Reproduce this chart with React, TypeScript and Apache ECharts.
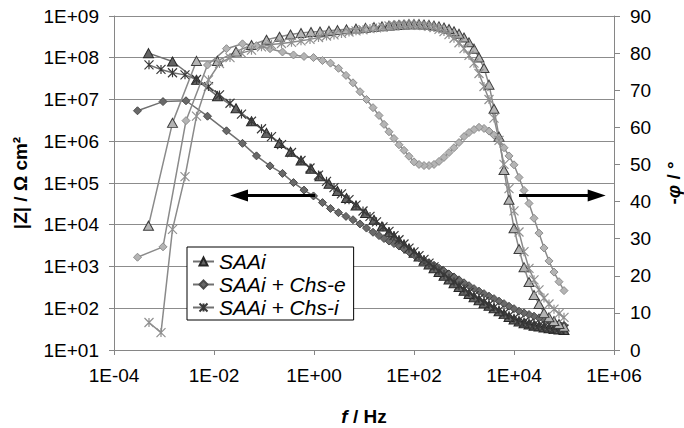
import React, { useEffect, useRef } from "react";
import * as echarts from "echarts";

const FONT = "'Liberation Sans', Arial, sans-serif";

// Frequencies (Hz), shared high-frequency part 1e5 .. 31.6 Hz
const freqHigh = [
  100000, 79430, 63100, 50120, 39810, 31620, 25120, 19950, 15850, 12590,
  10000, 7943, 6310, 5012, 3981, 3162, 2512, 1995, 1585, 1259,
  1000, 794.3, 631, 501.2, 398.1, 316.2, 251.2, 199.5, 158.5, 125.9,
  100, 79.43, 63.1, 50.12, 39.81, 31.62,
];
const freqLowSAAi = [
  22.91, 15.85, 10.72, 6.918, 4.467, 2.951, 1.995, 1.318, 0.871, 0.5495,
  0.3388, 0.2042, 0.1122, 0.05623, 0.02754, 0.01175, 0.004467, 0.001479, 0.0004898,
];
const freqLowChsE = [
  25.12, 19.95, 15.14, 11.22, 8.318, 6.026, 4.365, 3.09, 2.138, 1.479,
  0.9772, 0.631, 0.389, 0.2344, 0.1318, 0.07079, 0.03715, 0.01778, 0.007413, 0.002754,
  0.000955, 0.000295,
];
const freqLowChsI = [
  23.99, 17.78, 13.18, 9.55, 6.918, 5.012, 3.548, 2.512, 1.778, 1.23,
  0.8318, 0.5495, 0.3548, 0.2239, 0.1413, 0.08913, 0.05623, 0.03548, 0.02089, 0.01288,
  0.007762, 0.004467, 0.00263, 0.001479, 0.000871, 0.000501,
];

// |Z| (Ohm cm2)
const zSAAi = [
  30.2, 30.9, 31.6, 33.1, 34.7, 36.3, 38.0, 40.7, 43.7, 47.9,
  53.7, 61.7, 72.4, 85.1, 100, 115, 132, 155, 182, 219,
  263, 324, 398, 490, 603, 741, 912, 1122, 1380, 1738,
  2138, 2692, 3311, 4169, 5248, 6607,
  9120, 13180, 19050, 28840, 43650, 64570, 95500, 144500, 218800, 346700,
  562300, 912000, 1.585e6, 3.02e6, 6.17e6, 1.202e7, 2.95e7, 8.13e7, 1.288e8,
];
const zChsE = [
  38.9, 41.7, 44.7, 49.0, 53.7, 58.9, 64.6, 70.8, 77.6, 85.1,
  97.7, 112, 129, 148, 170, 195, 224, 257, 295, 347,
  407, 479, 562, 661, 776, 912, 1072, 1230, 1413, 1622,
  1905, 2239, 2630, 3090, 3548, 4074,
  4677, 5495, 6607, 8318, 10470, 13180, 15850, 19500, 24550, 33880,
  48980, 67610, 102300, 169800, 257000, 446700, 891300, 1.778e6, 3.98e6, 9.33e6,
  8.91e6, 5.37e6,
];
const zChsI = [
  31.6, 32.4, 33.1, 34.7, 36.3, 38.0, 40.7, 43.7, 46.8, 51.3,
  57.5, 66.1, 75.9, 89.1, 105, 123, 145, 170, 200, 240,
  288, 347, 427, 525, 646, 794, 977, 1202, 1479, 1820,
  2239, 2754, 3467, 4365, 5495, 6918,
  8913, 11750, 15850, 21380, 29510, 39810, 54950, 77620, 109600, 154900,
  229100, 346700, 537000, 831800, 1.288e6, 1.995e6, 3.02e6, 4.47e6, 8.13e6, 1.288e7,
  2.04e7, 3.02e7, 3.89e7, 4.37e7, 5.25e7, 6.76e7,
];

// -phase (degrees)
const pSAAi = [
  6.3, 7.0, 7.8, 8.8, 10.0, 12.4, 14.8, 18.3, 22.3, 27.2,
  32.8, 40.5, 48.5, 57.5, 65.0, 71.5, 76.0, 78.8, 81.2, 82.9,
  84.2, 85.2, 85.9, 86.5, 86.9, 87.2, 87.4, 87.6, 87.7, 87.8,
  87.8, 87.8, 87.7, 87.6, 87.5, 87.4,
  87.2, 87.0, 86.8, 86.6, 86.4, 86.2, 86.0, 85.8, 85.7, 85.4,
  85.0, 84.4, 83.6, 82.2, 80.4, 77.9, 77.9, 61.2, 33.5,
];
const pChsE = [
  16.0, 18.4, 21.0, 24.0, 27.5, 31.5, 35.5, 39.5, 43.0, 46.5,
  49.9, 52.3, 54.5, 56.5, 57.9, 59.0, 59.7, 60.0, 59.4, 58.6,
  57.5, 55.9, 54.5, 53.2, 51.9, 50.8, 50.0, 49.7, 49.7, 50.0,
  50.7, 52.2, 53.8, 55.3, 57.0, 58.8,
  60.8, 63.2, 65.3, 67.5, 69.6, 72.0, 74.0, 75.9, 77.3, 78.0,
  78.8, 79.1, 79.5, 80.3, 81.2, 82.0, 82.5, 81.2, 76.8, 61.8,
  27.8, 25.0,
];
const pChsI = [
  8.8, 9.8, 11.0, 12.4, 14.0, 16.2, 18.9, 22.0, 26.5, 31.8,
  37.5, 43.5, 50.0, 56.5, 62.5, 67.5, 71.0, 74.5, 77.3, 79.4,
  81.2, 82.8, 84.0, 85.0, 85.8, 86.4, 86.9, 87.2, 87.4, 87.5,
  87.6, 87.6, 87.6, 87.5, 87.4, 87.3,
  87.0, 86.8, 86.6, 86.3, 86.0, 85.7, 85.3, 84.9, 84.6, 84.2,
  83.7, 83.3, 82.9, 82.6, 82.3, 81.7, 80.8, 80.0, 78.8, 77.2,
  72.8, 63.0, 46.7, 32.5, 4.7, 7.4,
];

const seriesNames = ["SAAi", "SAAi + Chs-e", "SAAi + Chs-i"];

// Annotation arrows: [from Hz, to Hz] at |Z| level
const arrowLeftHz = [1.05, 0.0316];
const arrowRightHz = [12600, 450000];
const arrowZ = 50000;

const STAR = "path://M5 0L5 10M0 0L10 10M0 10L10 0";

const fmtExp = (v: number) => {
  const e = Math.round(v);
  const a = Math.abs(e);
  return "1E" + (e < 0 ? "-" : "+") + (a < 10 ? "0" : "") + a;
};
const fmtExpLog = (v: number) => fmtExp(Math.log10(v));

function pairs(freqs: number[], vals: number[]) {
  return freqs.map((f, i) => [Math.log10(f), vals[i]]);
}

function App() {
  const ref = useRef<HTMLDivElement>(null);
  useEffect(() => {
    if (!ref.current) return;
    const chart = echarts.init(ref.current, null, { renderer: "svg" });
    const fSAAi = freqHigh.concat(freqLowSAAi);
    const fChsE = freqHigh.concat(freqLowChsE);
    const fChsI = freqHigh.concat(freqLowChsI);

    const base = (extra: any) => ({
      type: "line",
      xAxisIndex: 0,
      silent: true,
      emphasis: { disabled: true },
      symbolKeepAspect: true,
      ...extra,
    });

    const axisGray = "#868686";
    const option: any = {
      animation: false,
      backgroundColor: "#fff",
      textStyle: { fontFamily: FONT },
      grid: { left: 114, right: 70, top: 16, bottom: 78, containLabel: false, outerBoundsMode: "none" },
      legend: {
        data: seriesNames,
        orient: "vertical",
        left: 187,
        top: 247,
        itemWidth: 21,
        itemHeight: 10,
        itemGap: 2,
        padding: [4, 8, 2, 5],
        backgroundColor: "#fff",
        borderColor: "#000",
        borderWidth: 1,
        borderRadius: 0,
        selectedMode: false,
        textStyle: { fontSize: 21, fontStyle: "italic", color: "#000", fontFamily: FONT },
      },
      xAxis: {
        type: "value",
        min: -4,
        max: 6,
        interval: 2,
        axisLine: { show: true, onZero: false, lineStyle: { color: axisGray, width: 1 } },
        axisTick: { show: true, length: 5, lineStyle: { color: axisGray } },
        axisLabel: { formatter: fmtExp, fontSize: 19, color: "#000", margin: 16, fontFamily: FONT },
        splitLine: { show: false },
        name: "{i|f} / Hz",
        nameLocation: "middle",
        nameGap: 57,
        nameTextStyle: {
          fontSize: 19,
          fontWeight: "bold",
          color: "#000",
          fontFamily: FONT,
          rich: { i: { fontSize: 19, fontWeight: "bold", fontStyle: "italic", fontFamily: FONT, color: "#000" } },
        },
      },
      yAxis: [
        {
          type: "log",
          logBase: 10,
          min: 10,
          max: 1e9,
          splitNumber: 8,
          position: "left",
          axisLine: { show: true, onZero: false, lineStyle: { color: axisGray, width: 1 } },
          axisTick: { show: true, length: 5, lineStyle: { color: axisGray } },
          axisLabel: { formatter: fmtExpLog, fontSize: 19, color: "#000", margin: 15, fontFamily: FONT },
          splitLine: { show: true, lineStyle: { color: "#8c8c8c", width: 1 } },
          minorTick: { show: false },
          name: "|Z| / Ω cm²",
          nameLocation: "middle",
          nameRotate: 90,
          nameGap: 84,
          nameTextStyle: { fontSize: 19, fontWeight: "bold", color: "#000", fontFamily: FONT },
        },
        {
          type: "value",
          min: 0,
          max: 90,
          interval: 10,
          position: "right",
          axisLine: { show: true, onZero: false, lineStyle: { color: axisGray, width: 1 } },
          axisTick: { show: true, length: 6, lineStyle: { color: axisGray } },
          axisLabel: { fontSize: 19, color: "#000", margin: 16, fontFamily: FONT },
          splitLine: { show: false },
          name: "-{i|φ} / °",
          nameLocation: "middle",
          nameRotate: 90,
          nameGap: 50,
          nameTextStyle: {
            fontSize: 19,
            fontWeight: "bold",
            color: "#000",
            fontFamily: FONT,
            rich: { i: { fontSize: 19, fontWeight: "bold", fontStyle: "italic", fontFamily: FONT, color: "#000" } },
          },
        },
      ],
      series: [
        base({
          name: seriesNames[0],
          yAxisIndex: 0,
          data: pairs(fSAAi, zSAAi),
          symbol: "triangle",
          symbolSize: [10, 9],
          lineStyle: { color: "#707070", width: 1.5 },
          itemStyle: { color: "#646464", borderColor: "#262626", borderWidth: 1 },
          z: 3,
          markLine: {
            silent: true,
            symbol: ["none", "triangle"],
            symbolSize: [12, 18],
            lineStyle: { color: "#000", width: 3, type: "solid" },
            label: { show: false },
            emphasis: { disabled: true },
            data: [
              [
                { coord: [Math.log10(arrowLeftHz[0]), arrowZ] },
                { coord: [Math.log10(arrowLeftHz[1]), arrowZ] },
              ],
              [
                { coord: [Math.log10(arrowRightHz[0]), arrowZ] },
                { coord: [Math.log10(arrowRightHz[1]), arrowZ] },
              ],
            ],
          },
        }),
        base({
          name: seriesNames[1],
          yAxisIndex: 0,
          data: pairs(fChsE, zChsE),
          symbol: "diamond",
          symbolSize: 8,
          lineStyle: { color: "#707070", width: 1.5 },
          itemStyle: { color: "#696969", borderColor: "#4a4a4a", borderWidth: 1 },
          z: 3,
        }),
        base({
          name: seriesNames[2],
          yAxisIndex: 0,
          data: pairs(fChsI, zChsI),
          symbol: STAR,
          symbolSize: 9,
          lineStyle: { color: "#707070", width: 1.5 },
          itemStyle: { color: "#404040", borderColor: "#383838", borderWidth: 1.2 },
          z: 3,
        }),
        base({
          name: "phase " + seriesNames[0],
          yAxisIndex: 1,
          data: pairs(fSAAi, pSAAi),
          symbol: "triangle",
          symbolSize: [10, 9],
          lineStyle: { color: "#8a8a8a", width: 1.5 },
          itemStyle: { color: "#b4b4b4", borderColor: "#3c3c3c", borderWidth: 1 },
          z: 4,
        }),
        base({
          name: "phase " + seriesNames[1],
          yAxisIndex: 1,
          data: pairs(fChsE, pChsE),
          symbol: "diamond",
          symbolSize: 8,
          lineStyle: { color: "#8a8a8a", width: 1.5 },
          itemStyle: { color: "#b4b4b4", borderColor: "#8c8c8c", borderWidth: 1 },
          z: 4,
        }),
        base({
          name: "phase " + seriesNames[2],
          yAxisIndex: 1,
          data: pairs(fChsI, pChsI),
          symbol: STAR,
          symbolSize: 9,
          lineStyle: { color: "#8a8a8a", width: 1.5 },
          itemStyle: { color: "#999999", borderColor: "#909090", borderWidth: 1.2 },
          z: 4,
        }),
      ],
    };
    chart.setOption(option);
    return () => chart.dispose();
  }, []);
  return (
    <div
      ref={ref}
      style={{ position: "absolute", left: 0, top: 0, width: 684, height: 428, background: "#fff" }}
    />
  );
}

export default App;
